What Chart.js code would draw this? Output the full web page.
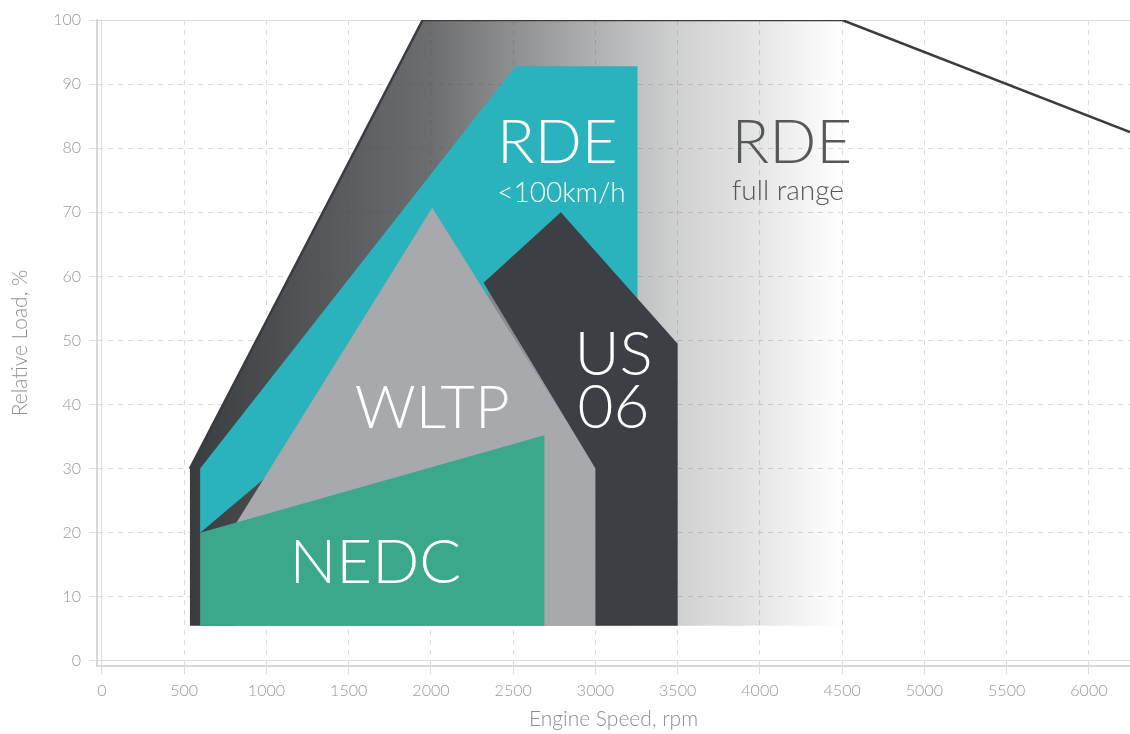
<!DOCTYPE html>
<html>
<head>
<meta charset="utf-8">
<script src="https://cdn.jsdelivr.net/npm/chart.js@4.4.1/dist/chart.umd.min.js"></script>
<style>
  html, body { margin: 0; padding: 0; background: #fff; }
  #chart { display: block; }
</style>
</head>
<body>
<canvas id="chart" width="1130" height="734"></canvas>
<script>
// Axis ticks
const xTicks = [0, 500, 1000, 1500, 2000, 2500, 3000, 3500, 4000, 4500, 5000, 5500, 6000];
const yTicks = [0, 10, 20, 30, 40, 50, 60, 70, 80, 90, 100];

// Operating regions (engine speed rpm, relative load %), polygon vertices
const rdeFull = [{x: 535, y: 5.5}, {x: 535, y: 30}, {x: 1950, y: 100}, {x: 4500, y: 100}, {x: 4500, y: 5.5}];
const rdeFullEdge = [{x: 535, y: 30}, {x: 1950, y: 100}, {x: 4500, y: 100}, {x: 6250, y: 82.5}];
const rdeUrban = [{x: 597, y: 20}, {x: 597, y: 30}, {x: 2514, y: 92.8}, {x: 3256, y: 92.8}, {x: 3256, y: 45}, {x: 2790, y: 60}, {x: 2320, y: 57}, {x: 1800, y: 46}];
const wltp = [{x: 809, y: 5.5}, {x: 809, y: 21.2}, {x: 2008, y: 70.7}, {x: 3000, y: 30}, {x: 3000, y: 5.5}];
const us06 = [{x: 2320, y: 59}, {x: 2790, y: 70}, {x: 3500, y: 49.5}, {x: 3500, y: 5.5}, {x: 3000, y: 5.5}, {x: 3000, y: 30}];
const nedc = [{x: 597, y: 5.5}, {x: 597, y: 20}, {x: 2690, y: 35.2}, {x: 2690, y: 5.5}];

// Region labels
const labels = [
    {text: 'RDE', x: 2769, y: 77.7, size: 62, weight: 300, color: '#ffffff'},
    {text: '<100km/h', x: 2794, y: 71.6, size: 28, weight: 300, color: '#ffffff'},
    {text: 'RDE', x: 4195, y: 77.7, size: 62, weight: 300, color: '#55585b'},
    {text: 'full range', x: 4170, y: 71.9, size: 28, weight: 300, color: '#55585b'},
    {text: 'WLTP', x: 2008, y: 36.3, size: 60, weight: 300, color: '#ffffff'},
    {text: 'US', x: 3110, y: 44.6, size: 62, weight: 300, color: '#ffffff'},
    {text: '06', x: 3110, y: 36.3, size: 62, weight: 300, color: '#ffffff'},
    {text: 'NEDC', x: 1662, y: 12.2, size: 62, weight: 300, color: '#ffffff'}
];

const FONT = 'Lato, "Open Sans", sans-serif';

// fill:'shape' clips to the x span between first and last point,
// so go back to the start and out to the rightmost vertex (zero-area tail)
function shape(pts) {
    let right = pts[0];
    pts.forEach(p => { if (p.x > right.x) right = p; });
    return pts.concat([pts[0], right]);
}

function polygon(pts, color) {
    return {
        data: shape(pts),
        backgroundColor: color,
        borderWidth: 0,
        fill: 'shape',
        pointRadius: 0,
        tension: 0
    };
}

function fadeGradient(context) {
    const chart = context.chart;
    if (!chart.chartArea) return 'rgba(58,61,64,0.5)';
    const x = chart.scales.x;
    const g = chart.ctx.createLinearGradient(x.getPixelForValue(535), 0, x.getPixelForValue(4500), 0);
    g.addColorStop(0, 'rgba(58,61,64,1)');
    g.addColorStop(0.37, 'rgba(58,61,64,0.75)');
    g.addColorStop(0.6, 'rgba(58,61,64,0.43)');
    g.addColorStop(0.75, 'rgba(58,61,64,0.24)');
    g.addColorStop(0.88, 'rgba(58,61,64,0.12)');
    g.addColorStop(1, 'rgba(58,61,64,0)');
    return g;
}

const labelPlugin = {
    id: 'regionLabels',
    afterDatasetsDraw(chart) {
        const {ctx, scales} = chart;
        ctx.save();
        ctx.textAlign = 'center';
        ctx.textBaseline = 'alphabetic';
        labels.forEach(l => {
            ctx.font = l.weight + ' ' + l.size + 'px ' + FONT;
            ctx.fillStyle = l.color;
            ctx.fillText(l.text, scales.x.getPixelForValue(l.x), scales.y.getPixelForValue(l.y));
        });
        ctx.restore();
    }
};

const dashFor = ctx => (ctx.tick && (ctx.tick.value === 0 || ctx.tick.value === 100)) ? [] : [5, 5];
const tickFont = {family: FONT, size: 16, weight: 300};
const titleFont = {family: FONT, size: 21, weight: 300};

const ctx = document.getElementById('chart').getContext('2d');
const chart = new Chart(ctx, {
    type: 'line',
    data: {
        datasets: [
            {
                data: rdeFullEdge,
                borderColor: '#3a3c3f',
                borderWidth: 2.5,
                fill: false,
                pointRadius: 0,
                tension: 0
            },
            polygon(nedc, '#3ba78b'),
            polygon(us06, '#3c3f43'),
            polygon(wltp, '#a7a9ac'),
            polygon(rdeUrban, '#2ab3bd'),
            polygon(rdeFull, fadeGradient)
        ]
    },
    options: {
        responsive: false,
        animation: false,
        events: [],
        layout: {padding: {top: 20, right: 0, bottom: 0, left: 0}},
        plugins: {
            legend: {display: false},
            tooltip: {enabled: false}
        },
        scales: {
            x: {
                type: 'linear',
                min: -30,
                max: 6250,
                afterBuildTicks: s => { s.ticks = xTicks.map(v => ({value: v})); },
                afterFit: s => { s.height = 68; },
                grid: {color: '#dcdcdc', lineWidth: 1, tickLength: 8},
                border: {display: true, color: '#d8d8d8', width: 2, dash: dashFor},
                ticks: {padding: 7, color: '#999999', font: tickFont, callback: v => String(v)},
                title: {display: true, text: 'Engine Speed, rpm', color: '#8f8f8f', font: titleFont, padding: {top: 0, bottom: 2}}
            },
            y: {
                type: 'linear',
                min: -0.8,
                max: 100,
                afterBuildTicks: s => { s.ticks = yTicks.map(v => ({value: v})); },
                afterFit: s => { s.width = 97; },
                grid: {color: '#dcdcdc', lineWidth: 1, tickLength: 8},
                border: {display: true, color: '#d8d8d8', width: 2, dash: dashFor},
                ticks: {padding: 8, color: '#999999', font: tickFont, callback: v => String(v)},
                title: {display: true, text: 'Relative Load, %', color: '#8f8f8f', font: titleFont, padding: {top: 8, bottom: 0}}
            }
        }
    },
    plugins: [labelPlugin]
});
</script>
</body>
</html>
